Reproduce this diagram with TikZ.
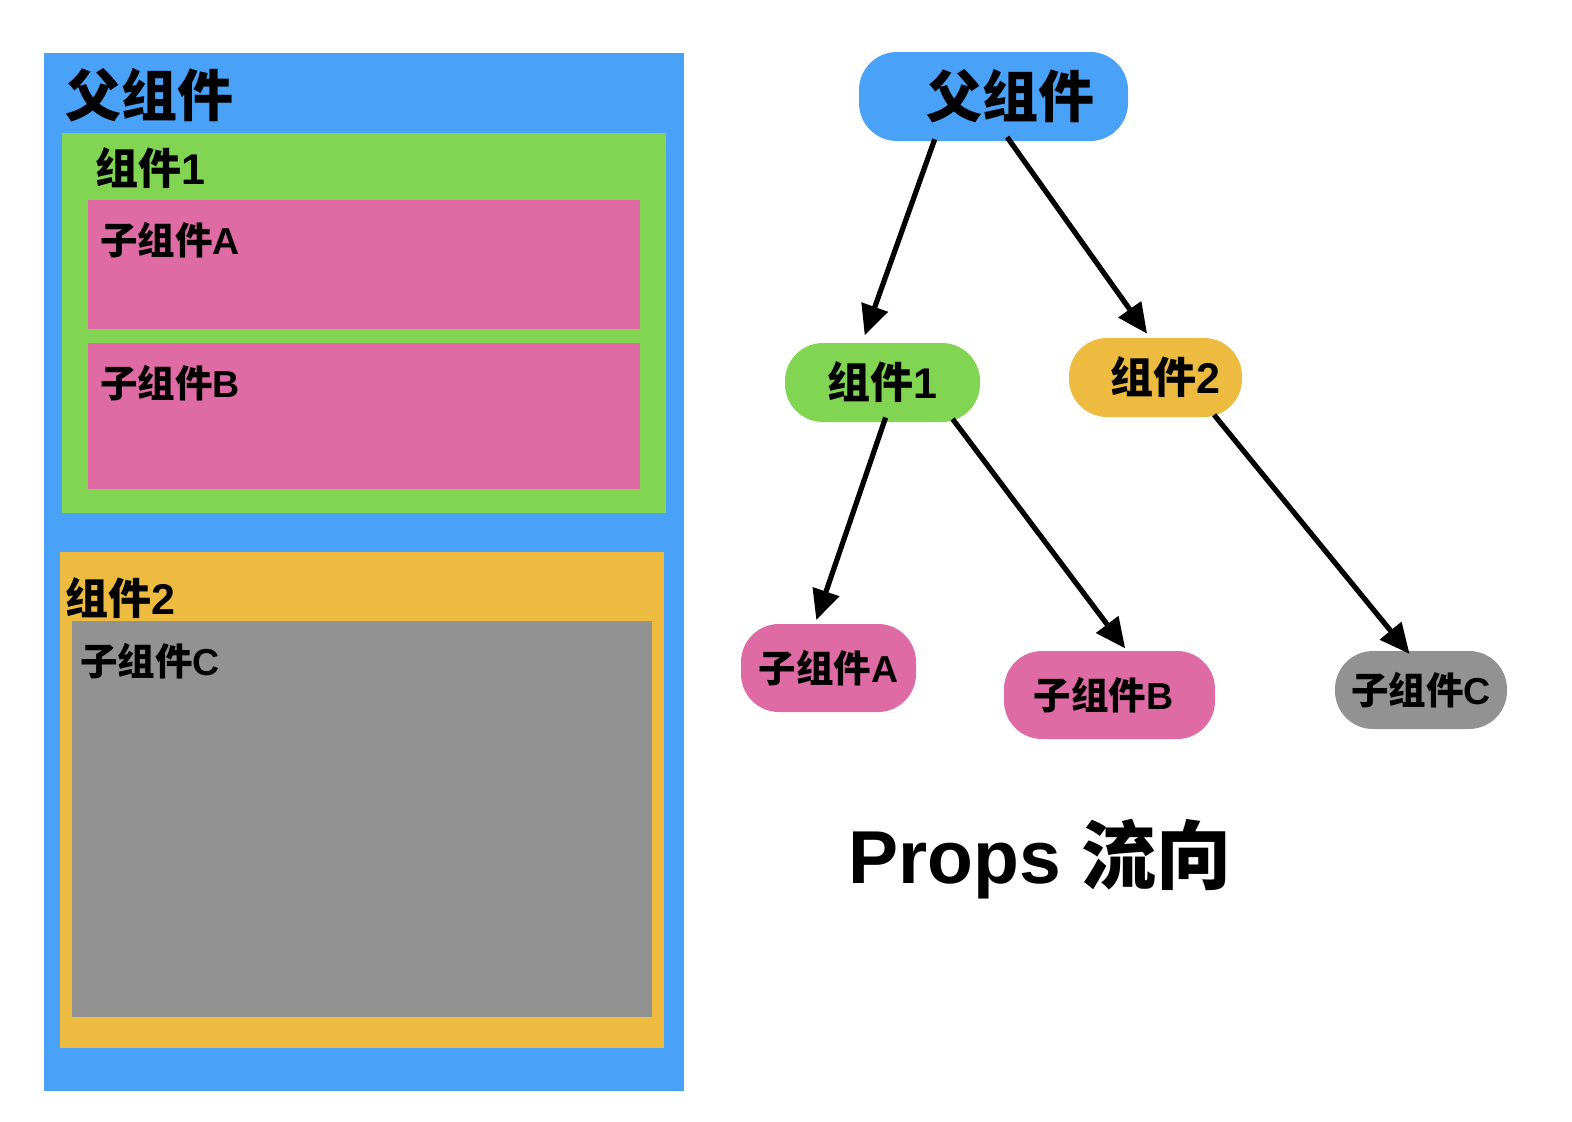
\documentclass[tikz,border=0pt]{standalone}
\usepackage{fontspec}
\setmainfont{Liberation Sans}
\newfontfamily\cjk{Noto Sans CJK SC}
\usetikzlibrary{arrows.meta}

\definecolor{panelblue}{RGB}{73,162,247}
\definecolor{compgreen}{RGB}{129,213,82}
\definecolor{subpink}{RGB}{222,107,164}
\definecolor{comporange}{RGB}{237,187,64}
\definecolor{subgray}{RGB}{146,146,146}

\newcommand{\zh}[1]{{\cjk #1}}

\tikzset{
  bigtxt/.style={font=\fontsize{56}{60}\selectfont\bfseries},
  midtxt/.style={font=\fontsize{43}{46}\selectfont\bfseries},
  smalltxt/.style={font=\fontsize{37.5}{40}\selectfont\bfseries},
  pill/.style={rectangle,rounded corners=38pt,inner sep=0pt},
  flow/.style={line width=5.2pt,-{Triangle[length=30pt,width=27pt]}}
}

\begin{document}
\begin{tikzpicture}[x=1pt,y=-1pt]
      \useasboundingbox (0,0) rectangle (1572,1122);

      % left: nested boxes
      \fill[panelblue] (44,53) rectangle (684,1091);
      \fill[compgreen] (62,133) rectangle (666,513);
      \fill[subpink] (88,200) rectangle (640,329);
      \fill[subpink] (88,343) rectangle (640,489);
      \fill[comporange] (60,552) rectangle (664,1048);
      \fill[subgray] (72,621) rectangle (652,1017);

      \draw (65,95) node[bigtxt,anchor=west,inner sep=0pt] (boxparent) {\zh{父组件}};
      \draw (95,168) node[midtxt,anchor=west,inner sep=0pt] (boxcomp1) {\zh{组件}1};
      \draw (100,240) node[smalltxt,anchor=west,inner sep=0pt] (boxsubA) {\zh{子组件}A};
      \draw (100,383) node[smalltxt,anchor=west,inner sep=0pt] (boxsubB) {\zh{子组件}B};
      \draw (65,598) node[midtxt,anchor=west,inner sep=0pt] (boxcomp2) {\zh{组件}2};
      \draw (80,661) node[smalltxt,anchor=west,inner sep=0pt] (boxsubC) {\zh{子组件}C};

      % right: props tree
      \draw (993.5,96.5) node[pill,bigtxt,fill=panelblue,minimum width=269pt,minimum height=89pt] (parent) {\hspace*{33pt}\zh{父组件}};
      \draw (882.5,382.5) node[pill,midtxt,fill=compgreen,minimum width=195pt,minimum height=79pt] (comp1) {\zh{组件}1};
      \draw (1155.5,377.5) node[pill,midtxt,fill=comporange,minimum width=173pt,minimum height=79pt] (comp2) {\hspace*{20pt}\zh{组件}2};
      \draw (828.5,668) node[pill,smalltxt,fill=subpink,minimum width=175pt,minimum height=88pt] (subA) {\zh{子组件}A};
      \draw (1109.5,695) node[pill,smalltxt,fill=subpink,minimum width=211pt,minimum height=88pt] (subB) {\zh{子组件}B\hspace*{12pt}};
      \draw (1421,690) node[pill,smalltxt,fill=subgray,minimum width=172pt,minimum height=78pt] (subC) {\zh{子组件}C};

      \draw[flow,shorten <=-2pt,shorten >=8pt] ([xshift=-59.5pt]parent.south) -- ([xshift=-20.5pt]comp1.north);
      \draw[flow,shorten <=-5pt,shorten >=5pt] ([xshift=16.5pt]parent.south) -- ([xshift=-5.5pt]comp2.north);
      \draw[flow,shorten <=-5pt,shorten >=4pt] ([xshift=1.5pt]comp1.south) -- ([xshift=-13.5pt]subA.north);
      \draw[flow,shorten <=-4pt,shorten >=3pt] ([xshift=72.5pt]comp1.south) -- ([xshift=17.5pt]subB.north);
      \draw[flow,shorten <=-3pt,shorten >=-4pt] ([xshift=60.5pt]comp2.south) -- ([xshift=-14pt]subC.north);

      \draw (848,859) node[anchor=west,inner sep=0pt,font=\fontsize{75}{80}\selectfont\bfseries] (caption) {Props \zh{流向}};
\end{tikzpicture}
\end{document}
